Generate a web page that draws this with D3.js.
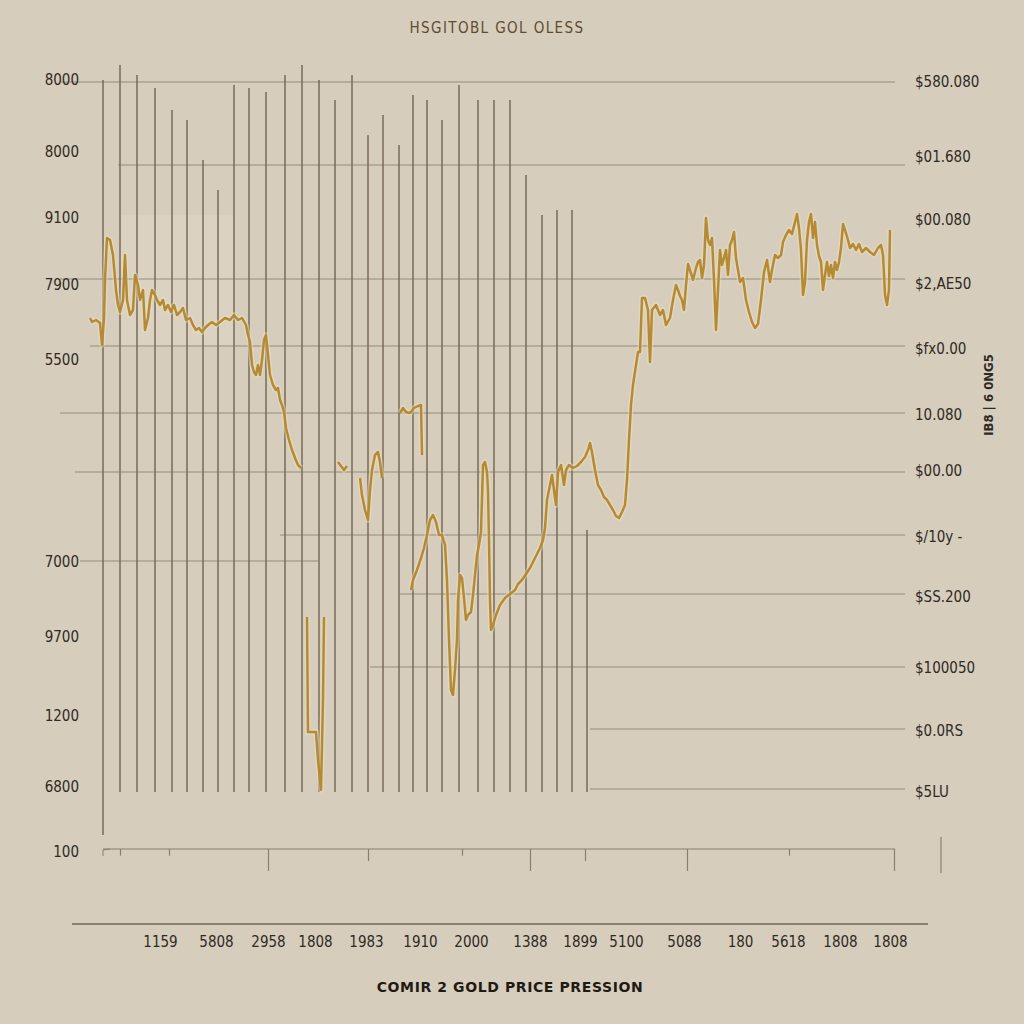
<!DOCTYPE html>
<html>
<head>
<meta charset="utf-8">
<script src="https://cdn.jsdelivr.net/npm/d3@7"></script>
<style>
  html, body { margin: 0; padding: 0; background: #d7cdbc; }
  svg { display: block; }
  .lbl { font-family: "DejaVu Sans Condensed", "Liberation Sans Narrow", "Liberation Sans", sans-serif; font-stretch: condensed; fill: #2e2a24; }
</style>
</head>
<body>
<svg id="chart" width="1024" height="1024"></svg>
<script>
// ---------------- DATA ----------------
const titleText = "HSGITOBL GOL OLESS";
const bottomTitle = "COMIR 2 GOLD PRICE PRESSION";
const sideText = "IB8 | 6 0NG5";

// left tick labels (price units) and their texts
const leftTickValues = [1540, 1396, 1264, 1130, 980, 576, 426, 268, 126, -4];
const leftTickLabels = ["8000", "8000", "9100", "7900", "5500", "7000", "9700", "1200", "6800", "100"];

// right tick labels
const rightTickValues = [1536, 1386, 1260, 1132, 1002, 870, 758, 626, 506, 364, 238, 116];
const rightTickLabels = ["$580.080", "$01.680", "$00.080", "$2,AE50", "$fx0.00", "10.080", "$00.00", "$/10y -", "$SS.200", "$100050", "$0.0RS", "$5LU"];

// bottom tick labels (period units)
const xTickValues = [70, 126, 178, 225, 276, 330, 381, 440, 490, 536, 594, 650, 698, 750, 800];
const xTickLabels = ["1159", "5808", "2958", "1808", "1983", "1910", "2000", "1388", "1899", "5100", "5088", "180", "5618", "1808", "1808"];

// bottom axis tick marks (period) and their relative length
const axisTickValues = [30, 79, 178, 278, 372, 440, 495, 597, 699, 804];
const axisTickLen = [0.3, 0.3, 1, 0.55, 0.3, 1, 0.55, 1, 0.3, 1];

// horizontal grid lines: price level, start and end (period)
const hGridPrice = [1536, 1370, 1142, 1008, 874, 756, 630, 578, 512, 366, 242, 122];
const hGridFrom  = [-30, 28, -30, 0, -30, -15, 190, -10, 310, 280, 500, 500];
const hGridTo    = [805, 815, 815, 815, 815, 815, 815, 228, 815, 815, 815, 815];

// vertical grid lines: period and top price
const vGridPeriod = [13, 30, 47, 65, 82, 97, 113, 128, 144, 159, 176, 195, 212, 229, 245, 262, 278, 293, 309, 323, 337, 352, 369, 388, 404, 420, 436, 452, 467, 482, 497];
const vGridTop = [1540, 1570, 1550, 1524, 1480, 1460, 1380, 1320, 1530, 1524, 1516, 1550, 1570, 1540, 1500, 1550, 1430, 1470, 1410, 1510, 1500, 1460, 1530, 1500, 1500, 1500, 1350, 1270, 1280, 1280, 640];
const vGridBottom = 116;

// gold price series (null = gap)
const period = [
  0,2,6,10,12,14,15,17,20,23,26,28,30,33,35,37,40,43,45,48,50,53,55,58,60,62,65,67,70,73,75,78,81,84,87,90,93,96,100,103,106,109,112,115,118,122,126,130,135,140,144,148,152,156,158,160,162,164,166,168,170,172,174,176,178,180,183,186,188,190,192,194,196,199,202,205,208,211,
  212,
  217,218,226,228,231,233,234,
  240,
  248,251,254,257,
  262,
  270,272,275,278,280,282,285,288,290,292,
  300,
  310,313,316,320,324,328,331,332,
  326,
  321,323,327,331,334,337,340,343,346,349,352,355,357,359,361,363,365,367,368,370,372,374,376,378,381,383,385,387,389,391,393,395,397,398,399,400,401,403,406,410,415,420,425,428,432,436,440,445,450,453,455,457,460,462,464,466,468,471,474,476,479,483,487,491,495,498,500,502,505,508,511,514,517,520,523,526,529,532,535,537,539,541,543,546,548,550,552,555,558,560,562,566,570,573,576,580,583,586,588,590,592,594,596,598,600,603,606,608,610,612,614,616,618,620,622,624,626,628,630,632,634,636,638,640,642,644,646,648,650,653,656,659,662,665,668,671,674,677,680,682,685,688,691,693,696,699,702,705,707,709,711,713,715,717,719,721,723,725,727,729,731,733,735,737,739,741,743,745,747,749,751,753,755,758,760,763,766,769,772,776,780,784,788,791,793,795,797,799,800
];
const price = [
  1064,1056,1060,1054,1010,1064,1140,1224,1220,1190,1120,1090,1076,1100,1190,1100,1070,1080,1150,1130,1100,1120,1040,1064,1100,1120,1110,1100,1090,1100,1080,1090,1076,1090,1070,1076,1084,1060,1064,1050,1040,1044,1036,1044,1050,1056,1050,1056,1064,1060,1070,1060,1064,1050,1030,1016,970,956,950,970,950,980,1020,1030,990,950,930,920,924,900,890,876,844,820,800,784,770,764,
  null,
  466,236,236,180,120,300,466,
  null,
  776,768,760,768,
  null,
  744,710,680,660,720,760,790,796,776,744,
  null,
  874,884,876,874,884,888,890,790,
  null,
  520,540,560,584,604,630,660,670,656,630,630,610,540,420,320,310,360,420,500,550,544,504,460,470,476,510,550,590,610,636,770,776,756,720,620,500,440,450,470,490,504,512,520,532,540,552,564,584,604,620,644,700,730,750,720,690,756,770,730,760,770,764,768,776,786,800,814,796,760,730,720,706,700,690,680,668,664,676,690,740,820,890,930,970,996,996,1104,1104,1080,976,1080,1090,1070,1080,1050,1064,1100,1130,1120,1108,1100,1080,1130,1172,1160,1140,1164,1176,1180,1144,1170,1264,1220,1210,1224,1140,1040,1120,1200,1170,1184,1200,1150,1210,1220,1236,1184,1160,1136,1144,1100,1076,1056,1044,1052,1100,1156,1180,1136,1160,1190,1184,1190,1216,1230,1240,1232,1256,1272,1244,1200,1110,1136,1220,1256,1272,1224,1256,1210,1188,1176,1120,1150,1176,1148,1170,1144,1176,1160,1176,1204,1252,1240,1220,1204,1212,1200,1212,1196,1204,1196,1190,1204,1210,1190,1110,1090,1120,1240
];

// ---------------- CHART ----------------
const svg = d3.select("#chart");
const x = d3.scaleLinear().domain([0, 800]).range([90, 890]);
const y = d3.scaleLinear().domain([0, 1540]).range([850, 80]);

svg.append("rect").attr("width", 1024).attr("height", 1024).attr("fill", "#d7cdbc");

// subtle lighter patches behind the line
svg.append("rect").attr("x", x(30)).attr("y", y(1270)).attr("width", x(143) - x(30)).attr("height", y(1006) - y(1270)).attr("fill", "#dbd2c2");

// horizontal grid
svg.append("g").selectAll("line").data(hGridPrice).join("line")
  .attr("x1", (d, i) => x(hGridFrom[i]))
  .attr("x2", (d, i) => x(hGridTo[i]))
  .attr("y1", d => y(d)).attr("y2", d => y(d))
  .attr("stroke", "#958b7a").attr("stroke-width", 1.1);

// vertical grid
svg.append("g").selectAll("line").data(vGridPeriod).join("line")
  .attr("x1", d => x(d)).attr("x2", d => x(d))
  .attr("y1", (d, i) => y(vGridTop[i]))
  .attr("y2", (d, i) => i === 0 ? y(30) : y(vGridBottom))
  .attr("stroke", "#7e725e").attr("stroke-width", 1.6);

// gold line
const line = d3.line()
  .defined((d, i) => price[i] !== null)
  .x((d, i) => x(period[i]))
  .y((d, i) => y(price[i]))
  .curve(d3.curveLinear);

svg.append("path").datum(period)
  .attr("d", line)
  .attr("fill", "none")
  .attr("stroke", "#efe2bf").attr("stroke-width", 5.5).attr("stroke-opacity", 0.45)
  .attr("stroke-linejoin", "round");
svg.append("path").datum(period)
  .attr("d", line)
  .attr("fill", "none")
  .attr("stroke", "#b48a34").attr("stroke-width", 2.5)
  .attr("stroke-linejoin", "round");

// left labels
const leftAxis = d3.axisLeft(y).tickValues(leftTickValues)
  .tickFormat((d, i) => leftTickLabels[i]).tickSize(0).tickPadding(0);
const gl = svg.append("g").attr("transform", "translate(79,0)").call(leftAxis);
gl.select(".domain").remove();
gl.selectAll("text").attr("class", "lbl").attr("font-size", 15).style("fill", "#2e2a24");

// right labels
const rightAxis = d3.axisRight(y).tickValues(rightTickValues)
  .tickFormat((d, i) => rightTickLabels[i]).tickSize(0).tickPadding(0);
const gr = svg.append("g").attr("transform", "translate(915,0)").call(rightAxis);
gr.select(".domain").remove();
gr.selectAll("text").attr("class", "lbl").attr("font-size", 15).style("fill", "#2e2a24");

// bottom axis line with ticks
svg.append("line").attr("x1", 103).attr("x2", 895).attr("y1", 849).attr("y2", 849)
  .attr("stroke", "#8a806f").attr("stroke-width", 1.2);
const bAxis = d3.axisBottom(x).tickValues(axisTickValues).tickFormat("").tickSize(22);
const gb = svg.append("g").attr("transform", "translate(0,849)").call(bAxis);
gb.select(".domain").remove();
gb.selectAll(".tick line").attr("y2", (d, i) => 22 * axisTickLen[i]).attr("stroke", "#8a806f").attr("stroke-width", 1.2);
svg.append("path").attr("d", "M103,856 L103,850 L110,849").attr("fill", "none").attr("stroke", "#8a806f");
svg.append("line").attr("x1", 941).attr("x2", 941).attr("y1", 837).attr("y2", 873).attr("stroke", "#8a806f").attr("stroke-width", 1.2);

// lower baseline
svg.append("line").attr("x1", 72).attr("x2", 928).attr("y1", 924).attr("y2", 924)
  .attr("stroke", "#6f6656").attr("stroke-width", 1.3);

// bottom tick labels
const xAxis = d3.axisBottom(x).tickValues(xTickValues)
  .tickFormat((d, i) => xTickLabels[i]).tickSize(0).tickPadding(0);
const gx = svg.append("g").attr("transform", "translate(0,936)").call(xAxis);
gx.select(".domain").remove();
gx.selectAll("text").attr("class", "lbl").attr("font-size", 15).style("fill", "#2e2a24");

// titles
svg.append("text").attr("x", 497).attr("y", 33).attr("text-anchor", "middle")
  .attr("font-family", "DejaVu Sans Condensed, Liberation Sans, sans-serif")
  .attr("font-size", 15).attr("letter-spacing", 1.4).attr("fill", "#5e4c32").text(titleText);
svg.append("text").attr("x", 510).attr("y", 992).attr("text-anchor", "middle")
  .attr("font-family", "DejaVu Sans, sans-serif").attr("font-weight", "bold")
  .attr("font-size", 14).attr("letter-spacing", 0.6).attr("fill", "#1e1a14").text(bottomTitle);
svg.append("text").attr("transform", "translate(993,395) rotate(-90)")
  .attr("text-anchor", "middle").attr("class", "lbl").attr("font-weight", "bold")
  .attr("font-size", 13).style("fill", "#2e2a24").text(sideText);
</script>
</body>
</html>
